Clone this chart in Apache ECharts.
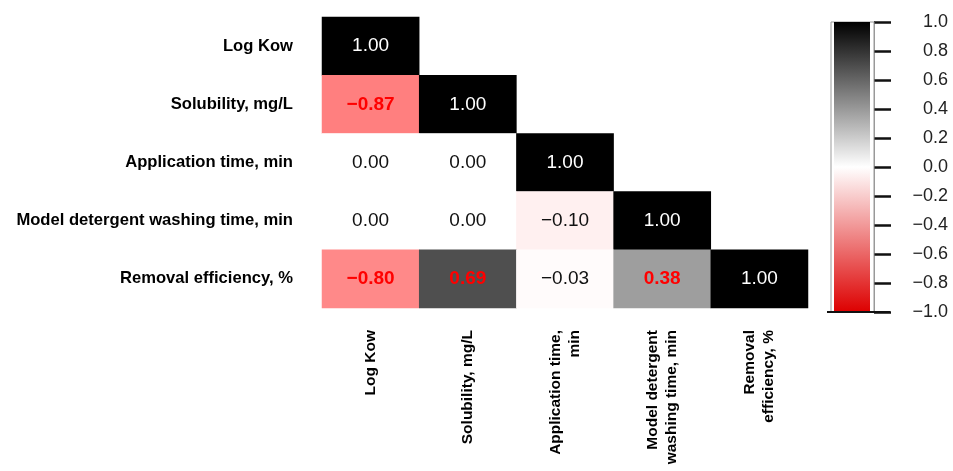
<!DOCTYPE html>
<html>
<head>
<meta charset="utf-8">
<script src="https://cdn.jsdelivr.net/npm/echarts@6/dist/echarts.min.js"></script>
<style>
  html, body { margin: 0; padding: 0; background: #fff; }
  #chart { width: 953px; height: 471px; }
</style>
</head>
<body>
<div id="chart"></div>
<script>
  // variable names (rows top to bottom)
  var rowNames = ['Log Kow', 'Solubility, mg/L', 'Application time, min',
    'Model detergent washing time, min', 'Removal efficiency, %'];
  var colNames = ['Log Kow', 'Solubility, mg/L', 'Application time,\nmin',
    'Model detergent\nwashing time, min', 'Removal\nefficiency, %'];

  // lower triangle of the correlation matrix
  var logKow = [1.00];
  var solubility = [-0.87, 1.00];
  var applicationTime = [0.00, 0.00, 1.00];
  var washingTime = [0.00, 0.00, -0.10, 1.00];
  var removalEfficiency = [-0.80, 0.69, -0.03, 0.38, 1.00];

  var scaleMin = -1, scaleMax = 1, scaleStep = 0.2;

  var rows = [logKow, solubility, applicationTime, washingTime, removalEfficiency];
  var cells = [];
  rows.forEach(function (row, y) {
    row.forEach(function (v, x) { cells.push([x, y, v]); });
  });

  function fmt(v, d) {
    return v.toFixed(d).replace('-', '\u2212');
  }

  var chart = echarts.init(document.getElementById('chart'));
  chart.setOption({
    animation: false,
    textStyle: { fontFamily: 'Liberation Sans, Arial, sans-serif' },
    grid: [
      { left: 322, top: 17, width: 486, height: 291 },
      { left: 831, top: 22, width: 43, height: 290 }
    ],
    xAxis: [{
      type: 'category',
      data: colNames,
      gridIndex: 0,
      axisLine: { show: false },
      axisTick: { show: false },
      splitLine: { show: false },
      axisLabel: {
        rotate: 90, margin: 22, fontSize: 15.5, fontWeight: 'bold',
        color: '#000', lineHeight: 19, interval: 0
      }
    }, {
      type: 'category',
      data: ['bar'],
      gridIndex: 1,
      show: false
    }],
    yAxis: [{
      type: 'category',
      data: rowNames,
      inverse: true,
      gridIndex: 0,
      axisLine: { show: false },
      axisTick: { show: false },
      splitLine: { show: false },
      axisLabel: { margin: 29, fontSize: 16.6, fontWeight: 'bold', color: '#000' }
    }, {
      type: 'value',
      gridIndex: 1,
      position: 'right',
      min: scaleMin,
      max: scaleMax,
      interval: scaleStep,
      axisLine: { show: true, lineStyle: { color: '#999', width: 1 } },
      axisTick: { show: true, length: 17, lineStyle: { color: '#111', width: 2.5 } },
      splitLine: { show: false },
      axisLabel: {
        margin: 74, align: 'right', fontSize: 18, color: '#222',
        formatter: function (v) { return fmt(v, 1); }
      }
    }],
    visualMap: {
      type: 'continuous',
      show: false,
      seriesIndex: 0,
      min: scaleMin,
      max: scaleMax,
      inRange: { color: ['#ff6c6c', '#ffffff', '#000000'] }
    },
    series: [{
      type: 'heatmap',
      xAxisIndex: 0,
      yAxisIndex: 0,
      data: cells,
      emphasis: { disabled: true },
      label: {
        show: true,
        formatter: function (p) {
          var v = p.value[2];
          var s = fmt(v, 2);
          if (v >= 0.995) return '{w|' + s + '}';
          if (Math.abs(v) >= 0.3) return '{r|' + s + '}';
          return '{n|' + s + '}';
        },
        rich: {
          w: { color: '#fff', fontSize: 19 },
          r: { color: '#ff0000', fontSize: 19, fontWeight: 'bold' },
          n: { color: '#111', fontSize: 19 }
        }
      }
    }, {
      type: 'custom',
      xAxisIndex: 1,
      yAxisIndex: 1,
      data: [[0, scaleMin, scaleMax]],
      encode: { x: 0, y: [1, 2] },
      silent: true,
      renderItem: function (params, api) {
        var cs = params.coordSys;
        var top = api.coord([0, api.value(2)])[1];
        var bot = api.coord([0, api.value(1)])[1];
        return {
          type: 'group',
          children: [{
            type: 'rect',
            shape: { x: cs.x, y: top, width: cs.width, height: bot - top },
            style: { fill: '#fff', stroke: '#999', lineWidth: 1 }
          }, {
            type: 'rect',
            shape: { x: cs.x + 3, y: top, width: cs.width - 7, height: bot - top },
            style: {
              fill: new echarts.graphic.LinearGradient(0, 0, 0, 1, [
                { offset: 0, color: '#000000' },
                { offset: 0.5, color: '#ffffff' },
                { offset: 1, color: '#dd0000' }
              ])
            }
          }, {
            type: 'line',
            shape: { x1: cs.x - 4, y1: bot, x2: cs.x + cs.width + 16, y2: bot },
            style: { stroke: '#111', lineWidth: 2 }
          }]
        };
      }
    }]
  });
</script>
</body>
</html>
